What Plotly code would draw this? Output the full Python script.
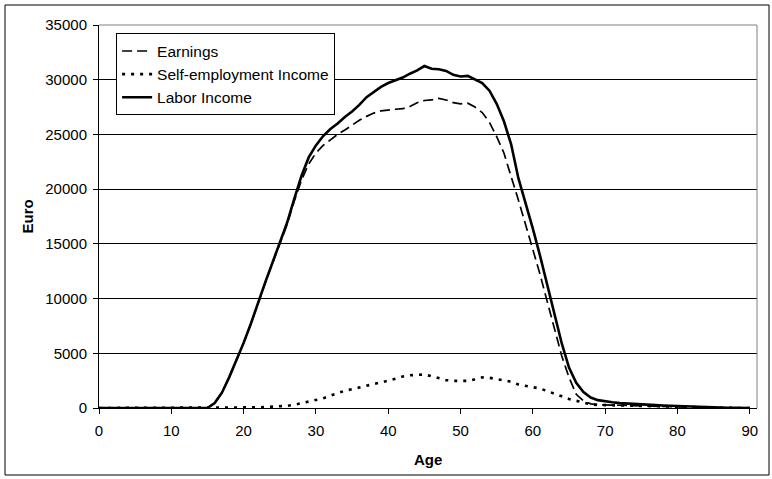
import plotly.graph_objects as go

ages = list(range(0, 91))

labor_income = [0]*16 + [
    450, 1400, 2800, 4300, 5950, 7700, 9700, 11500, 13300, 15100,   # 16-25
    16900, 19100, 21200, 22900, 24000, 24850, 25500, 26000, 26600, 27100,  # 26-35
    27700, 28400, 28900, 29350, 29700, 29950, 30200, 30550, 30850, 31250,  # 36-45
    31000, 30950, 30800, 30450, 30300, 30350, 30000, 29700, 29000, 27800,  # 46-55
    26200, 24100, 21000, 18800, 16400, 13900, 11200, 8400, 5900, 3700,    # 56-65
    2300, 1450, 950, 720, 600, 520, 450, 400, 360, 320,                   # 66-75
    290, 260, 230, 200, 170, 140, 110, 90, 70, 50,                        # 76-85
    35, 25, 15, 8, 5                                                      # 86-90
]

earnings = [0]*16 + [
    450, 1400, 2800, 4300, 5950, 7700, 9650, 11450, 13250, 15000,
    16750, 18900, 20800, 22300, 23300, 24000, 24500, 25000, 25400, 25850,
    26300, 26650, 26950, 27150, 27250, 27300, 27350, 27550, 27900, 28100,
    28150, 28300, 28150, 27900, 27800, 27850, 27500, 27000, 26100, 24800,
    23300, 21200, 19000, 16750, 14500, 12200, 9700, 7200, 4750, 2800,
    1250, 650, 380, 300, 280, 250, 220, 200, 180, 160,
    140, 120, 100, 90, 80, 60, 50, 40, 30, 20,
    15, 10, 5, 3, 0
]

self_employment = [0]*18 + [
    10, 20, 30, 40, 60, 80, 110, 150,                                    # 18-25
    200, 290, 420, 560, 720, 880, 1120, 1380, 1580, 1720,                # 26-35
    1870, 2000, 2180, 2340, 2500, 2680, 2880, 2990, 3020, 3060,          # 36-45
    2900, 2700, 2550, 2480, 2450, 2480, 2620, 2800, 2760, 2660,          # 46-55
    2550, 2400, 2150, 1990, 1900, 1780, 1560, 1330, 1070, 820,           # 56-65
    660, 480, 330, 280, 250, 230, 220, 210, 200, 190,                    # 66-75
    170, 150, 130, 115, 100, 85, 70, 55, 40, 30,                         # 76-85
    20, 10, 5, 0, 0                                                      # 86-90
]

y_ticks = [0, 5000, 10000, 15000, 20000, 25000, 30000, 35000]
x_ticks = [0, 10, 20, 30, 40, 50, 60, 70, 80, 90]

FONT = "Liberation Sans, Arial, sans-serif"

fig = go.Figure()
fig.add_trace(go.Scatter(x=ages, y=earnings, mode="lines", name="Earnings",
                         line=dict(color="black", width=1.7, dash="10px,5px")))
fig.add_trace(go.Scatter(x=ages, y=self_employment, mode="lines", name="Self-employment Income",
                         line=dict(color="black", width=2.6, dash="3px,6px")))
fig.add_trace(go.Scatter(x=ages, y=labor_income, mode="lines", name="Labor Income",
                         line=dict(color="black", width=2.6)))

fig.update_layout(
    width=772, height=479,
    margin=dict(l=99, r=15, t=25, b=71),
    paper_bgcolor="white", plot_bgcolor="white",
    font=dict(family=FONT, size=15, color="black"),
    showlegend=True,
    legend=dict(x=0.026, y=0.978, xanchor="left", yanchor="top",
                bgcolor="white", bordercolor="black", borderwidth=1,
                font=dict(family=FONT, size=15.5, color="black"),
                tracegroupgap=0),
    xaxis=dict(range=[0, 91], tickmode="array", tickvals=x_ticks,
               ticktext=[str(v) for v in x_ticks],
               showgrid=False, zeroline=False, showline=True,
               linecolor="black", linewidth=1,
               ticks="outside", ticklen=5, tickcolor="black",
               ticklabelstandoff=4,
               tickfont=dict(family=FONT, size=15, color="black")),
    yaxis=dict(range=[0, 35000], tickmode="array", tickvals=y_ticks,
               ticktext=[str(v) for v in y_ticks],
               showgrid=True, gridcolor="black", gridwidth=1,
               zeroline=False, showline=True, linecolor="black", linewidth=1,
               ticks="outside", ticklen=5, tickcolor="black",
               ticklabelstandoff=3,
               tickfont=dict(family=FONT, size=15, color="black")),
    shapes=[
        # plot area top/right border (grey)
        dict(type="line", xref="paper", yref="paper", x0=0, x1=1, y0=1, y1=1,
             line=dict(color="#808080", width=1)),
        dict(type="line", xref="paper", yref="paper", x0=1, x1=1, y0=0, y1=1,
             line=dict(color="#808080", width=1)),
        # chart area border
        dict(type="rect", xref="paper", yref="paper",
             x0=(5 - 99) / 658, x1=(769 - 99) / 658,
             y0=(408 - 475) / 383, y1=(408 - 5) / 383,
             line=dict(color="black", width=1), fillcolor="rgba(0,0,0,0)"),
    ],
    annotations=[
        dict(text="<b>Age</b>", xref="paper", yref="paper", x=0.5,
             y=(408 - 459) / 383, xanchor="center", yanchor="middle",
             showarrow=False, font=dict(family=FONT, size=15, color="black")),
        dict(text="<b>Euro</b>", xref="paper", yref="paper",
             x=(27 - 99) / 658, y=0.5, xanchor="center", yanchor="middle",
             textangle=-90, showarrow=False,
             font=dict(family=FONT, size=15, color="black")),
    ],
)

fig.write_html("out.html", config={"displayModeBar": False},
               post_script="document.body.style.margin='0';")
